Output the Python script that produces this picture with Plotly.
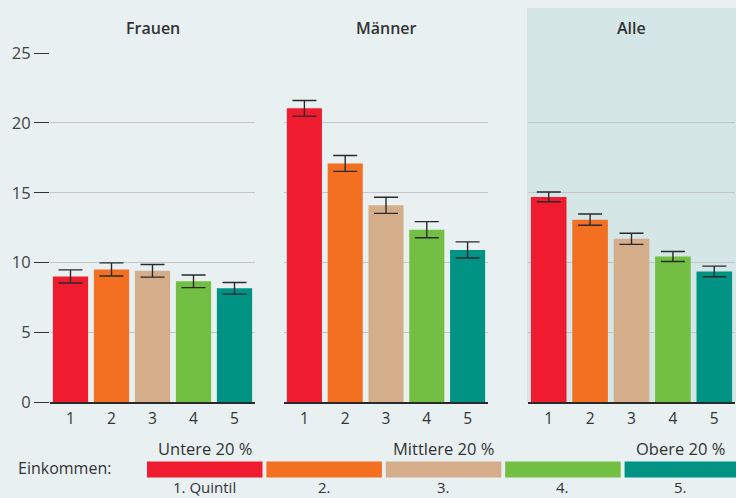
import plotly.graph_objects as go

quintiles = ["1", "2", "3", "4", "5"]
panels = ["Frauen", "Männer", "Alle"]
frauen_vals = [9.0, 9.5, 9.4, 8.65, 8.15]
frauen_err = [0.47, 0.47, 0.45, 0.45, 0.42]
maenner_vals = [21.05, 17.1, 14.1, 12.35, 10.9]
maenner_err = [0.56, 0.57, 0.58, 0.58, 0.58]
alle_vals = [14.7, 13.07, 11.7, 10.43, 9.36]
alle_err = [0.35, 0.4, 0.4, 0.36, 0.38]
colors = ["#ee1c2e", "#f36f21", "#d4ae8b", "#72bf44", "#009384"]
y_ticks = [0, 5, 10, 15, 20, 25]
legend_top = ["Untere 20 %", "Mittlere 20 %", "Obere 20 %"]
legend_bottom = ["1. Quintil", "2.", "3.", "4.", "5."]
legend_title = "Einkommen:"

W, H = 736, 498
BG = "#e8f0f1"
SHADE = "#d5e6e6"
TXT = "#333333"
FONT = "Open Sans"

def px(x):
    return x / W

def py(y):
    return (H - y) / H

fig = go.Figure()
data = [(frauen_vals, frauen_err), (maenner_vals, maenner_err), (alle_vals, alle_err)]
for i, (vals, errs) in enumerate(data):
    sfx = "" if i == 0 else str(i + 1)
    fig.add_trace(go.Bar(
        x=quintiles, y=vals,
        marker=dict(color=colors, line=dict(width=0)),
        error_y=dict(type="data", array=errs, color="#2a2a2a", thickness=1.4, width=12),
        xaxis="x" + sfx, yaxis="y" + sfx, showlegend=False,
    ))

domains = [(50, 255), (284, 488), (528, 735)]
y_dom = [py(402), py(52.5)]
layout = dict(
    template="none",
    width=W, height=H, autosize=False, paper_bgcolor=BG, plot_bgcolor="rgba(0,0,0,0)",
    margin=dict(l=0, r=0, t=0, b=0, pad=0), bargap=0.14,
    font=dict(family=FONT, color=TXT),
)
for i, (a, b) in enumerate(domains):
    sfx = "" if i == 0 else str(i + 1)
    layout["xaxis" + sfx] = dict(
        domain=[px(a), px(b)], range=[-0.5, 4.5], type="category",
        showline=True, linecolor="#2a2a2a", linewidth=1.5,
        showgrid=False, ticks="", tickfont=dict(size=15.5, color=TXT, family=FONT),
        ticklabelstandoff=2,
        anchor="y" + sfx, fixedrange=True, automargin=False,
    )
    layout["yaxis" + sfx] = dict(
        domain=y_dom, range=[0, 25.05], tickvals=y_ticks,
        showgrid=True, gridcolor="#c3c6c8", gridwidth=1.4,
        zeroline=False, showline=False,
        showticklabels=(i == 0),
        ticks="outside" if i == 0 else "", ticklen=15, tickcolor="#333333", tickwidth=1.4,
        tickfont=dict(size=16.5, color="#444444", family=FONT),
        anchor="x" + sfx, fixedrange=True, automargin=False,
    )
fig.update_layout(**layout)

shapes = [dict(type="rect", xref="paper", yref="paper",
               x0=px(527), x1=1, y0=py(402), y1=py(8),
               fillcolor=SHADE, line=dict(width=0), layer="below")]
annotations = []
for i, name in enumerate(panels):
    a, b = domains[i]
    annotations.append(dict(text=name, x=px((a + b) / 2), y=py(28), xref="paper", yref="paper",
                            showarrow=False, xanchor="center", yanchor="middle",
                            font=dict(size=16, color=TXT, family=FONT, weight=600)))

# legend strips
seg_x0 = 147
seg_w = 115.5
seg_gap = 3.9
centers = []
for i, c in enumerate(colors):
    x0 = seg_x0 + i * (seg_w + seg_gap)
    x1 = min(x0 + seg_w, W)
    shapes.append(dict(type="rect", xref="paper", yref="paper",
                       x0=px(x0), x1=px(x1), y0=py(477.5), y1=py(461.5),
                       fillcolor=c, line=dict(width=0), layer="above"))
    centers.append((x0 + x1) / 2)
    annotations.append(dict(text=legend_bottom[i], x=px(centers[-1]), y=py(486.5),
                            xref="paper", yref="paper", showarrow=False,
                            xanchor="center", yanchor="middle", borderpad=0,
                            font=dict(size=15, color=TXT, family=FONT)))
for j, idx in enumerate([0, 2, 4]):
    annotations.append(dict(text=legend_top[j], x=px(centers[idx]), y=py(448),
                            xref="paper", yref="paper", showarrow=False,
                            xanchor="center", yanchor="middle",
                            font=dict(size=16.5, color=TXT, family=FONT)))
annotations.append(dict(text=legend_title, x=px(16), y=py(468), xref="paper", yref="paper",
                        showarrow=False, xanchor="left", yanchor="middle",
                        font=dict(size=16, color=TXT, family=FONT)))
fig.update_layout(shapes=shapes, annotations=annotations)

fig.write_html("out.html", config={"displayModeBar": False})

with open("out.html", "r", encoding="utf-8") as f:
    html = f.read()
html = html.replace("<head>", "<head><style>html,body{margin:0;padding:0;overflow:hidden;background:#e8f0f1;}</style>", 1)
with open("out.html", "w", encoding="utf-8") as f:
    f.write(html)
